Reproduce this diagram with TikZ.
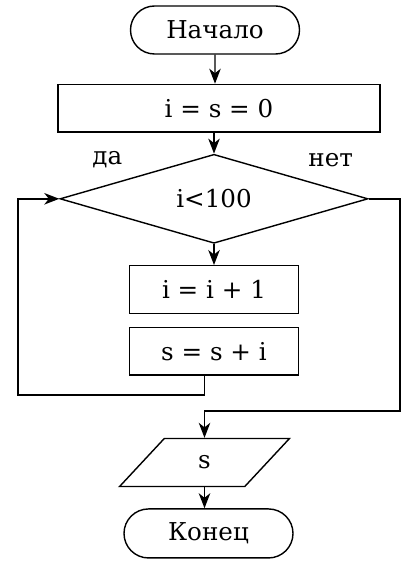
\documentclass[tikz,border=0pt]{standalone}
\usepackage{fontspec}
\setmainfont{DejaVu Serif}
\usetikzlibrary{arrows.meta, positioning, shapes.geometric, shapes.misc, calc}

\begin{document}
\begin{tikzpicture}[
  node distance=0.5cm,
  line width=0.8pt,
  font=\fontsize{14}{16}\selectfont,
  term/.style={draw, rounded rectangle, minimum width=3.38cm, minimum height=0.96cm, inner sep=0pt},
  block/.style={draw, rectangle, minimum height=0.95cm, inner sep=0pt},
  decision/.style={draw, diamond, aspect=3.46, minimum width=6.16cm, minimum height=1.78cm, inner sep=0pt},
  io/.style={draw, trapezium, trapezium left angle=62.5, trapezium right angle=117.5, trapezium stretches=true, minimum width=3.4cm, minimum height=0.96cm, inner sep=0pt},
  arr/.style={-{Stealth[length=3mm, width=2.3mm, inset=0.9mm]}},
]
  \useasboundingbox (0,0) rectangle (8.38,-11.5);

  % Nodes
  \node[term] (start) at (4.30,-0.60) {Начало};
  \node[block, minimum width=6.44cm, below=0.58cm of start, xshift=0.08cm] (init) {i = s = 0};
  \node[decision, below=0.42cm of init, xshift=-0.10cm] (check) {i<100};
  \node[block, minimum width=3.38cm, below=0.42cm of check] (inc) {i = i + 1};
  \node[block, minimum width=3.38cm, below=0.26cm of inc] (sum) {s = s + i};
  \node[io, below=1.24cm of sum, xshift=-0.19cm] (out) {s};
  \node[term, minimum height=0.98cm, below=0.42cm of out, xshift=0.08cm] (stop) {Конец};

  % Branch labels
  \node at ($(check.west)+(0.96,0.78)$) (yes) {да};
  \node at ($(check.east)+(-0.76,0.78)$) (no) {нет};

  % Bends
  \coordinate (loopL) at (0.36,-7.90);
  \coordinate (exitR) at (8.00,-8.22);

  % Edges
  \draw[arr] (start) -- (start |- init.north);
  \draw[arr] (check.north |- init.south) -- (check.north);
  \draw[arr] (check) -- (inc);
  \draw[arr] (sum.south -| out.north) |- (loopL) |- (check.west);
  \draw[arr] (check.east) -| (exitR) -| (out.north);
  \draw[arr] (out.south) -- (out.south |- stop.north);
\end{tikzpicture}
\end{document}
